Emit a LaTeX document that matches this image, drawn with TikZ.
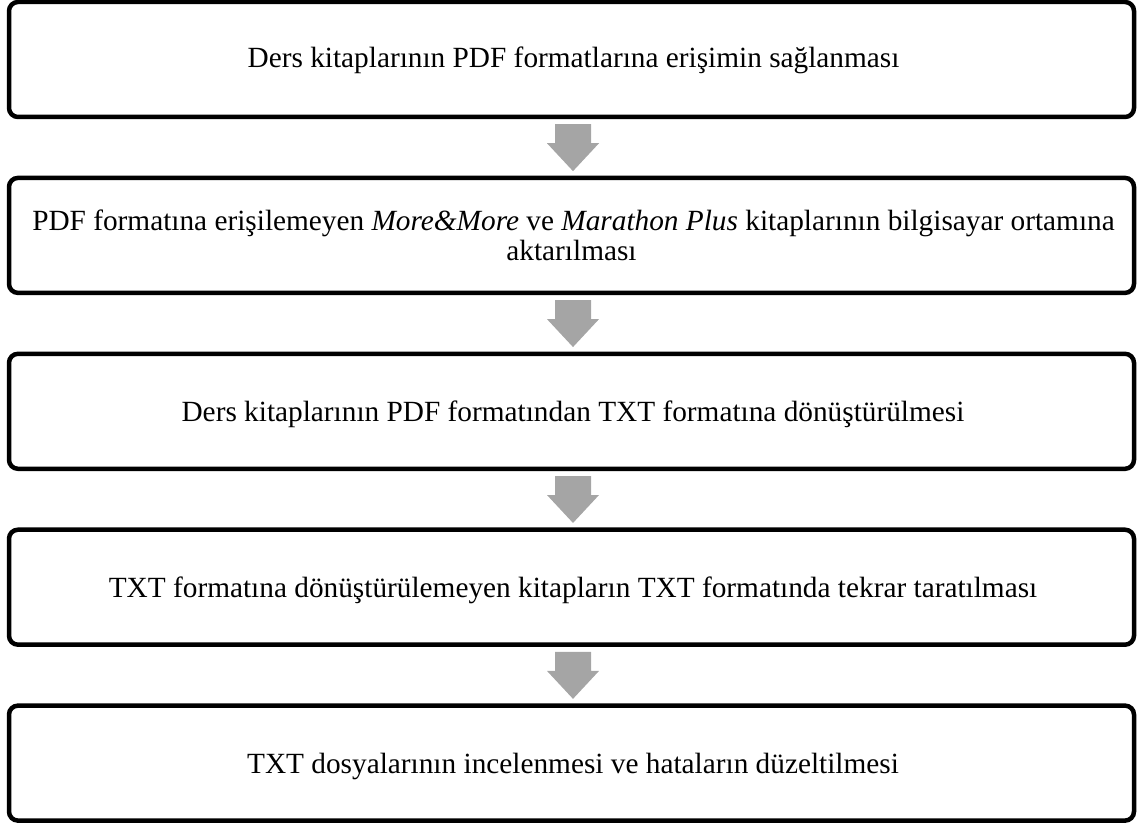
\documentclass[tikz,border=0pt]{standalone}
\usepackage{fontspec}
\setmainfont{Liberation Serif}
\usetikzlibrary{calc}
\definecolor{arrowgray}{HTML}{A5A5A5}
\tikzset{
  stepbox/.style={draw=black, line width=4.5pt, rounded corners=9pt, fill=white,
    minimum width=1125pt, minimum height=115pt, inner sep=0pt},
  steptext/.style={anchor=base, inner sep=0pt, font=\fontsize{29.3}{30}\selectfont},
  flowarrow/.style={fill=arrowgray, draw=none}
}
\begin{document}
\begin{tikzpicture}[x=1pt,y=-1pt]
\useasboundingbox (0,0) rectangle (1137,826);
\node[stepbox] (b1) at (571.5,59.5) {};
\node[stepbox] (b2) at (571.5,235.4) {};
\node[stepbox] (b3) at (571.5,411.3) {};
\node[stepbox] (b4) at (571.5,587.2) {};
\node[stepbox] (b5) at (571.5,763.1) {};
\node[steptext] (t1) at (573.5,68) {Ders kitaplarının PDF formatlarına erişimin sağlanması};
\node[steptext] (t2a) at (573.5,231) {PDF formatına erişilemeyen \textit{More\&More} ve \textit{Marathon Plus} kitaplarının bilgisayar ortamına};
\node[steptext] (t2b) at (571.5,261) {aktarılması};
\node[steptext] (t3) at (573,421) {Ders kitaplarının PDF formatından TXT formatına dönüştürülmesi};
\node[steptext] (t4) at (573,597) {TXT formatına dönüştürülemeyen kitapların TXT formatında tekrar taratılması};
\node[steptext] (t5) at (573,773) {TXT dosyalarının incelenmesi ve hataların düzeltilmesi};
\foreach \a/\b in {b1/b2,b2/b3,b3/b4,b4/b5}{
  \fill[flowarrow] ($(\a.south)+(-16.5,5)$) -- ($(\a.south)+(19.5,5)$)
    -- ($(\a.south)+(19.5,24)$) -- ($(\a.south)+(27.5,24)$)
    -- ($(\b.north)+(1.5,-4.5)$)
    -- ($(\a.south)+(-24.5,24)$) -- ($(\a.south)+(-16.5,24)$) -- cycle;
}
\end{tikzpicture}
\end{document}
